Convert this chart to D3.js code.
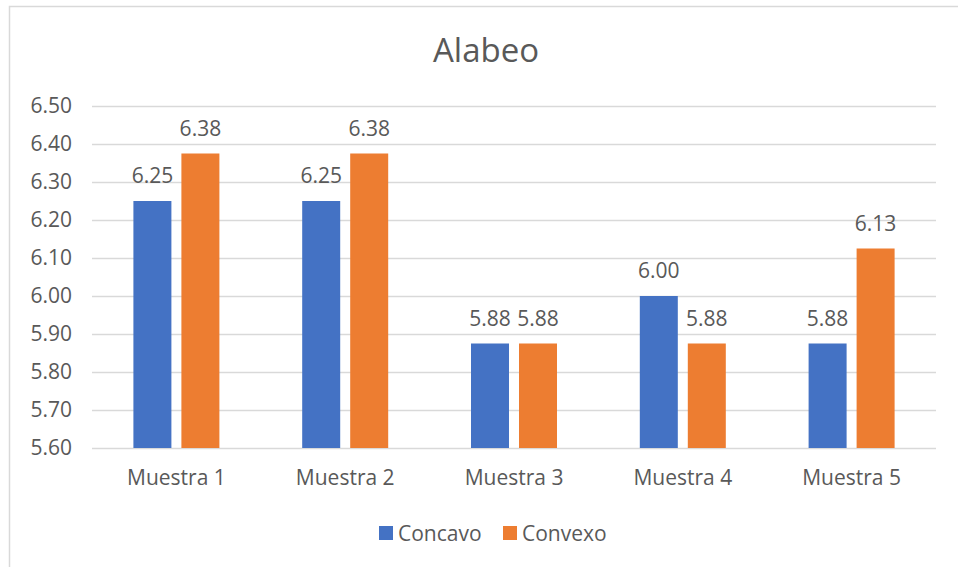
<!DOCTYPE html>
<html><head><meta charset="utf-8">
<script src="https://cdn.jsdelivr.net/npm/d3@7"></script>
<style>html,body{margin:0;padding:0;background:#fff;}svg{display:block;font-family:"Open Sans",sans-serif;}</style>
</head><body>
<script>
const categories = ["Muestra 1","Muestra 2","Muestra 3","Muestra 4","Muestra 5"];
const seriesNames = ["Concavo","Convexo"];
const concavo = [6.25, 6.25, 5.875, 6.00, 5.875];
const convexo = [6.375, 6.375, 5.875, 5.875, 6.125];
const yTicks = [5.6,5.7,5.8,5.9,6.0,6.1,6.2,6.3,6.4,6.5];
const colors = ["#4472C4","#ED7D31"];
const title = "Alabeo";

const W = 958, H = 567;
const svg = d3.select("body").append("svg").attr("width",W).attr("height",H);
const txt = "#595959";
const fs = "21px";

// chart border
svg.append("rect").attr("x",9.5).attr("y",6.5).attr("width",W).attr("height",H)
  .attr("fill","none").attr("stroke","#d9d9d9").attr("stroke-width",1.5);

const m = {left:92, right:936, top:106, bottom:448};
const y = d3.scaleLinear().domain([5.6,6.5]).range([m.bottom,m.top]);
const x0 = d3.scaleBand().domain(categories).range([m.left,m.right]).paddingInner(1-86/168.8).paddingOuter((1-86/168.8)/2);
const x1 = d3.scaleBand().domain(seriesNames).range([0,x0.bandwidth()]).paddingInner(10/48);

// gridlines
svg.append("g").selectAll("line").data(yTicks).join("line")
  .attr("x1",m.left).attr("x2",m.right)
  .attr("y1",d=>Math.round(y(d))+0.5).attr("y2",d=>Math.round(y(d))+0.5)
  .attr("stroke","#d9d9d9").attr("stroke-width",1.3);

// y axis labels
const yAxis = d3.axisLeft(y).tickValues(yTicks).tickFormat(d3.format(".2f")).tickSize(0).tickPadding(20);
const gy = svg.append("g").attr("transform",`translate(${m.left},0)`).call(yAxis);
gy.select(".domain").remove();
gy.selectAll("text").attr("fill",txt).style("font-size",fs).style("font-family","Open Sans");

// x axis labels
const xAxis = d3.axisBottom(x0).tickSize(0).tickPadding(22);
const gx = svg.append("g").attr("transform",`translate(0,${m.bottom})`).call(xAxis);
gx.select(".domain").remove();
gx.selectAll("text").attr("fill",txt).style("font-size",fs).style("font-family","Open Sans");

const data = categories.map((c,i)=>({cat:c, vals:[{s:seriesNames[0],v:concavo[i]},{s:seriesNames[1],v:convexo[i]}]}));
const groups = svg.append("g").selectAll("g").data(data).join("g")
  .attr("transform",d=>`translate(${x0(d.cat)},0)`);
groups.selectAll("rect").data(d=>d.vals).join("rect")
  .attr("x",d=>x1(d.s)).attr("width",x1.bandwidth())
  .attr("y",d=>y(d.v)).attr("height",d=>y(5.6)-y(d.v))
  .attr("fill",(d,i)=>colors[i]);
groups.selectAll("text").data(d=>d.vals).join("text")
  .attr("x",d=>x1(d.s)+x1.bandwidth()/2).attr("y",d=>y(d.v)-18)
  .attr("text-anchor","middle").attr("fill",txt).style("font-size",fs)
  .text(d=>d3.format(".2f")(d.v+1e-9));

// title
svg.append("text").attr("x",486).attr("y",62).attr("text-anchor","middle")
  .attr("fill",txt).style("font-size","33px").text(title);

// legend
const lx = [379, 503];
const lg = svg.append("g").selectAll("g").data(seriesNames).join("g")
  .attr("transform",(d,i)=>`translate(${lx[i]},526)`);
lg.append("rect").attr("width",14).attr("height",14).attr("fill",(d,i)=>colors[i]);
lg.append("text").attr("x",19).attr("y",14.5).attr("fill",txt).style("font-size",fs).text(d=>d);
</script>
</body></html>
